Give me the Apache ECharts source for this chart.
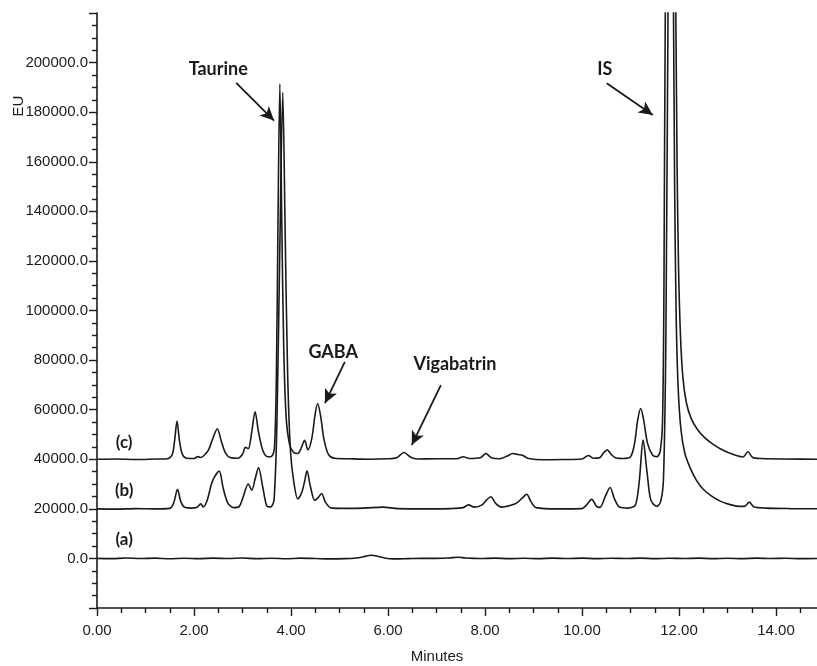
<!DOCTYPE html>
<html>
<head>
<meta charset="utf-8">
<script src="https://cdn.jsdelivr.net/npm/echarts@6/dist/echarts.min.js"></script>
<style>
  html, body { margin: 0; padding: 0; background: #ffffff; }
  #chart { width: 817px; height: 666px; }
</style>
</head>
<body>
<div id="chart"></div>
<script>
// Fluorescence chromatograms, [minutes, EU]
// (a) blank, (b) standard mixture (offset +20000), (c) sample (offset +40000)
const traceA = [
  [0,0],[0.3,-100],[0.6,150],[0.9,-50],[1.2,100],[1.5,-150],[1.8,50],[2.1,-100],[2.4,100],
  [2.7,-50],[3.0,150],[3.3,-100],[3.6,50],[3.9,-150],[4.2,100],[4.5,-50],[4.8,-200],[5.1,-100],
  [5.35,200],[5.5,700],[5.65,1300],[5.8,800],[5.95,100],[6.1,-200],[6.4,-100],[6.7,50],[7.0,0],
  [7.25,150],[7.45,500],[7.6,150],[7.9,-50],[8.2,100],[8.5,-100],[8.8,50],[9.1,-100],[9.4,100],
  [9.7,-50],[10.0,100],[10.3,-100],[10.6,50],[10.9,-50],[11.2,100],[11.5,-100],[11.8,50],
  [12.1,-50],[12.4,100],[12.7,-100],[13.0,50],[13.3,-100],[13.6,100],[13.9,-50],[14.2,50],
  [14.5,-100],[14.9,0]
];

const traceB = [
  [0,20000],[0.4,19900],[0.8,20100],[1.2,20000],[1.50,20200],[1.58,22300],[1.66,27900],[1.73,22800],
  [1.82,20500],[1.95,20300],[2.05,20500],[2.14,22000],[2.19,20800],[2.27,23400],[2.36,30000],
  [2.42,32800],[2.52,35200],[2.60,28500],[2.70,22200],[2.82,20500],[2.93,20900],[3.00,24000],
  [3.12,30000],[3.19,27500],[3.26,32000],[3.33,36700],[3.42,28500],[3.50,21200],[3.58,20800],
  [3.65,23500],[3.71,55000],[3.77,126000],[3.83,187900],[3.88,131000],[3.93,75000],[3.99,43000],
  [4.06,30500],[4.14,24000],[4.22,26500],[4.28,31000],[4.33,35300],[4.40,29000],[4.49,23400],
  [4.56,24500],[4.63,26200],[4.71,22700],[4.82,20400],[5.1,20200],[5.5,20300],[5.9,20700],
  [6.2,20100],[6.8,20000],[7.3,20100],[7.55,20500],[7.66,21600],[7.78,20700],[7.93,21500],
  [8.03,23500],[8.12,24900],[8.22,22200],[8.34,20700],[8.50,21300],[8.65,22300],[8.78,24600],
  [8.86,25900],[8.94,23200],[9.05,20500],[9.5,20000],[10.0,20100],[10.08,21300],[10.20,23800],
  [10.30,21000],[10.37,20600],[10.48,25000],[10.58,28600],[10.67,24000],[10.78,20600],
  [10.95,20300],[11.10,21500],[11.18,31000],[11.26,47700],[11.34,35000],[11.42,23500],
  [11.54,21000],[11.62,22800],[11.68,32000],[11.73,90000],[11.775,225000],[11.83,340000],
  [11.885,225000],[11.91,150000],[11.94,100000],[11.98,70000],[12.04,52000],[12.12,42500],
  [12.23,36500],[12.36,31500],[12.50,27900],[12.68,25000],[12.85,23100],[13.02,21900],
  [13.19,21100],[13.35,21000],[13.45,22700],[13.55,20700],[13.8,20300],[14.3,20100],[14.9,20000]
];

const traceC = [
  [0,40000],[0.4,40100],[0.8,39900],[1.2,40100],[1.45,40200],[1.55,41800],[1.60,47500],[1.65,55400],
  [1.70,47500],[1.76,42000],[1.85,40400],[2.0,40300],[2.08,41100],[2.13,40700],[2.20,41400],
  [2.30,43800],[2.40,49000],[2.48,52300],[2.56,47500],[2.65,42500],[2.76,40600],[2.90,40400],
  [3.00,42000],[3.06,44800],[3.12,44300],[3.19,51000],[3.26,59100],[3.33,51000],[3.42,43500],
  [3.52,41000],[3.60,41200],[3.66,45000],[3.70,76000],[3.73,132000],[3.77,191400],[3.81,136000],
  [3.85,85000],[3.90,57000],[3.97,46000],[4.05,42800],[4.14,42300],[4.21,44500],[4.28,47600],
  [4.35,43800],[4.43,48500],[4.50,58500],[4.55,62500],[4.61,57500],[4.68,48000],[4.77,42000],
  [4.90,40400],[5.2,40200],[5.6,40000],[6.0,40200],[6.18,40600],[6.33,42700],[6.47,40800],
  [6.6,40100],[7.0,40200],[7.42,40200],[7.55,41000],[7.68,40300],[7.9,40600],[8.02,42300],
  [8.13,40600],[8.30,40200],[8.46,41300],[8.57,42300],[8.68,41900],[8.77,41600],[8.90,40300],
  [9.2,39800],[9.6,39900],[10.0,40100],[10.13,41500],[10.24,40400],[10.36,40600],[10.45,42700],
  [10.52,43800],[10.60,42000],[10.70,40500],[10.85,40300],[11.00,41000],[11.08,46000],
  [11.15,56000],[11.21,60500],[11.27,56000],[11.35,46500],[11.45,41800],[11.54,41000],
  [11.61,43000],[11.66,55000],[11.69,110000],[11.72,230000],[11.83,420000],[11.93,230000],
  [11.96,160000],[11.99,118000],[12.03,90000],[12.08,73000],[12.15,63000],[12.25,56500],
  [12.38,52000],[12.54,48500],[12.72,45800],[12.92,43500],[13.12,41900],[13.32,40900],
  [13.42,43000],[13.52,40700],[13.7,40300],[14.2,40100],[14.9,40000]
];

const traceNames = ['(a)', '(b)', '(c)'];
const peakNames = ['Taurine', 'GABA', 'Vigabatrin', 'IS'];

const axisFont = "'Liberation Sans', Arial, sans-serif";
const noteFont = "Lato, 'Open Sans', sans-serif";
const ink = '#1a1a1a';

// where each trace tag sits, in axis units
const tagAnchors = { '(a)': [0.56, 7500], '(b)': [0.56, 27200], '(c)': [0.56, 46600] };
// peak callouts: label anchor, arrow tail, arrow tip (axis units)
const noteLayout = {
  'Taurine':    { label: [2.50, 197400], from: [2.87, 191800], to: [3.65, 176600] },
  'GABA':       { label: [4.87, 83200],  from: [5.11, 79300],  to: [4.70, 62600] },
  'Vigabatrin': { label: [7.38, 78400],  from: [7.09, 69900],  to: [6.49, 45700] },
  'IS':         { label: [10.47, 197400], from: [10.51, 191700], to: [11.46, 178900] }
};

const chart = echarts.init(document.getElementById('chart'), null, { renderer: 'canvas' });

function traceSeries(name, data) {
  return {
    name: name,
    type: 'line',
    data: data,
    symbol: 'none',
    smooth: 0.3,
    clip: true,
    lineStyle: { color: ink, width: 1.6 },
    silent: true,
    z: 3
  };
}

const tickStyle = { color: ink, width: 1.4 };

chart.setOption({
  animation: false,
  backgroundColor: '#ffffff',
  // the time axis runs past the right edge of the canvas, so it is cut at ~14.9 min
  grid: { left: 97, right: -56, top: 13, bottom: 58, containLabel: false, outerBoundsMode: 'none' },
  xAxis: {
    type: 'value',
    min: 0,
    max: 16,
    interval: 2,
    axisLine: { show: true, onZero: false, lineStyle: { color: ink, width: 1.6 } },
    axisTick: { show: true, length: 8, lineStyle: tickStyle },
    minorTick: { show: true, splitNumber: 4, length: 5, lineStyle: tickStyle },
    splitLine: { show: false },
    axisLabel: {
      formatter: v => v.toFixed(2),
      margin: 15,
      color: ink,
      fontFamily: axisFont,
      fontSize: 15
    }
  },
  yAxis: {
    type: 'value',
    min: -20000,
    max: 220000,
    interval: 20000,
    axisLine: { show: true, onZero: false, lineStyle: { color: ink, width: 1.6 } },
    axisTick: { show: true, length: 8, lineStyle: tickStyle },
    minorTick: { show: true, splitNumber: 4, length: 5, lineStyle: tickStyle },
    splitLine: { show: false },
    axisLabel: {
      formatter: v => v.toFixed(1),
      showMaxLabel: false,
      showMinLabel: false,
      margin: 9,
      color: ink,
      fontFamily: axisFont,
      fontSize: 15
    }
  },
  series: [
    traceSeries(traceNames[0], traceA),
    traceSeries(traceNames[1], traceB),
    traceSeries(traceNames[2], traceC),
    {
      name: 'callouts',
      type: 'line',
      data: [],
      silent: true,
      markLine: {
        silent: true,
        animation: false,
        symbol: ['none', 'arrow'],
        symbolSize: [10, 14],
        label: { show: false },
        lineStyle: { color: ink, width: 1.8, type: 'solid' },
        emphasis: { disabled: true },
        data: peakNames.map(n => [
          { coord: noteLayout[n].from },
          { coord: noteLayout[n].to }
        ])
      }
    }
  ]
});

// text overlays positioned through the axes
function px(p) { return chart.convertToPixel({ xAxisIndex: 0, yAxisIndex: 0 }, p); }

const overlay = [];
peakNames.forEach(n => {
  const p = px(noteLayout[n].label);
  overlay.push({
    type: 'text', x: p[0], y: p[1], silent: true,
    style: { text: n, fill: ink, font: 'bold 18px ' + noteFont, textAlign: 'center', textVerticalAlign: 'middle' }
  });
});
traceNames.forEach(n => {
  const p = px(tagAnchors[n]);
  overlay.push({
    type: 'text', x: p[0], y: p[1], silent: true,
    style: { text: n, fill: ink, font: 'bold 17px ' + noteFont, textAlign: 'center', textVerticalAlign: 'middle' }
  });
});
// axis titles
overlay.push({
  type: 'text', x: 437, y: 657, silent: true,
  style: { text: 'Minutes', fill: ink, font: '15px ' + axisFont, textAlign: 'center', textVerticalAlign: 'middle' }
});
overlay.push({
  type: 'text', x: 19, y: 106, rotation: Math.PI / 2, silent: true,
  style: { text: 'EU', fill: ink, font: '15px ' + axisFont, textAlign: 'center', textVerticalAlign: 'middle' }
});

chart.setOption({ graphic: overlay });
</script>
</body>
</html>
